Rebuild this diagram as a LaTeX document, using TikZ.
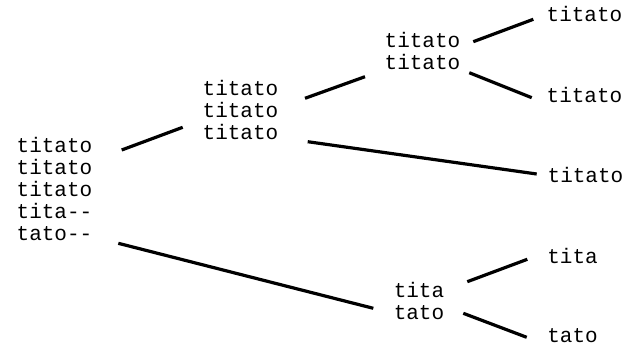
\documentclass[tikz,border=0pt]{standalone}
\usepackage{fontspec}
\setmonofont{Liberation Mono}
\begin{document}
\begin{tikzpicture}[x=1pt,y=-1pt,
  lbl/.style={font=\ttfamily\fontsize{21}{22}\selectfont, align=left, inner sep=0pt, anchor=center},
  branch/.style={line width=3.2pt, black}]
\useasboundingbox (0,0) rectangle (635,345);

% tree labels
\node[lbl] (root) at (54.5,189) {titato\\titato\\titato\\tita--\\tato--};
\node[lbl] (A)  at (240.5,110) {titato\\titato\\titato};
\node[lbl] (B)  at (422.5,51)  {titato\\titato};
\node[lbl] (B1) at (584.5,14)  {titato};
\node[lbl] (B2) at (584.5,95)  {titato};
\node[lbl] (A2) at (585.5,175) {titato};
\node[lbl] (C)  at (419,301)   {tita\\tato};
\node[lbl] (C1) at (572.5,256) {tita};
\node[lbl] (C2) at (572.5,335.5) {tato};

% branches, offset from the label centres
\draw[branch] ([shift={(67.2,-39)}]root.center) -- ([shift={(-57.8,17.3)}]A.center);
\draw[branch] ([shift={(63.8,54.3)}]root.center) -- ([shift={(-45.7,7.3)}]C.center);
\draw[branch] ([shift={(64.5,-11.7)}]A.center) -- ([shift={(-57.5,25.7)}]B.center);
\draw[branch] ([shift={(67.2,31.7)}]A.center) -- ([shift={(-48.8,-1)}]A2.center);
\draw[branch] ([shift={(50.8,-9.3)}]B.center) -- ([shift={(-51.2,5.3)}]B1.center);
\draw[branch] ([shift={(46.8,21.7)}]B.center) -- ([shift={(-52.8,2.7)}]B2.center);
\draw[branch] ([shift={(48.3,-19.3)}]C.center) -- ([shift={(-45.2,3.3)}]C1.center);
\draw[branch] ([shift={(44.3,12.3)}]C.center) -- ([shift={(-45.8,1.8)}]C2.center);
\end{tikzpicture}
\end{document}
